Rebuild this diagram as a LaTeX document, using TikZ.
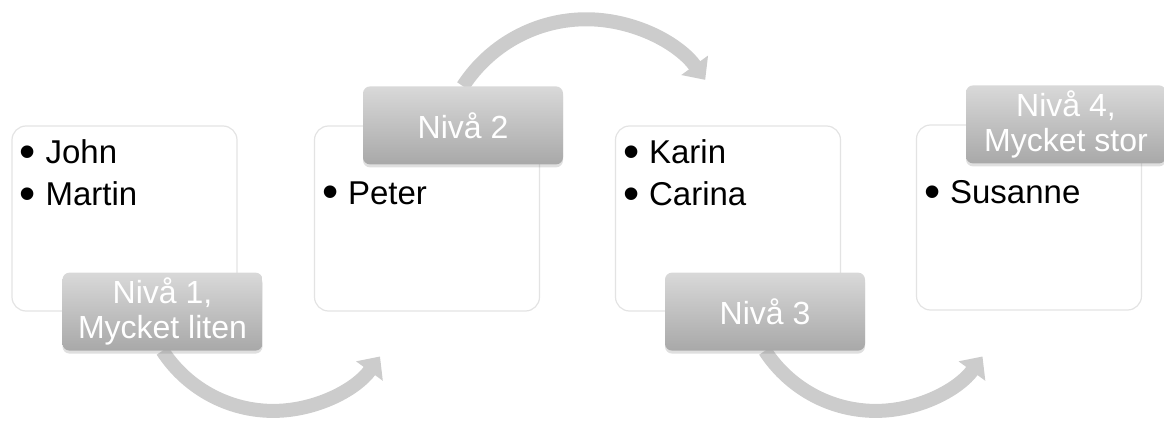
\documentclass[tikz,border=0pt]{standalone}
\usepackage{fontspec}
\setmainfont{Liberation Sans}
\usetikzlibrary{arrows.meta,shadows,backgrounds}
\tikzset{
    every node/.style={align=center,},
    card/.style={draw=gray!22,line width=1.2pt,rounded corners=14pt,minimum width=225pt,minimum height=185pt,inner sep=0pt,},
    level/.style={rounded corners=7pt,top color=gray!30,bottom color=gray!68,text=white,minimum width=200pt,minimum height=78pt,inner sep=0pt,font=\fontsize{32}{35}\selectfont,drop shadow={opacity=0.25,shadow xshift=0pt,shadow yshift=-3pt},},
    items/.style={anchor=north west,align=left,inner sep=0pt,font=\fontsize{33}{42}\selectfont,},
    flow/.style={draw=gray!40,line width=14pt,-{Triangle[length=18pt,width=32pt]},},
}
\newcommand{\itm}[1]{\makebox[26pt][l]{\raisebox{-3.5pt}{\scalebox{1.4}{\textbullet}}}#1}

\begin{document}
\begin{tikzpicture}[x=1pt,y=1pt]
                \useasboundingbox (0,0) rectangle (1164,421);

                \node[card] (box1) at (124.5,202.5) {};
                \node[card] (box2) at (427,202.5) {};
                \node[card] (box3) at (728,202.5) {};
                \node[card] (box4) at (1029,203.5) {};

                \node[items] (list1) at ([shift={(8,-14)}]box1.north west) {\itm{John}\\\itm{Martin}};
                \node[items] (list2) at ([shift={(8,-56)}]box2.north west) {\itm{Peter}};
                \node[items] (list3) at ([shift={(8,-14)}]box3.north west) {\itm{Karin}\\\itm{Carina}};
                \node[items] (list4) at ([shift={(8,-56)}]box4.north west) {\itm{Susanne}};

                \node[level] (lab1) at ([xshift=38pt]box1.south) {Nivå 1,\\Mycket liten};
                \node[level] (lab2) at ([xshift=36pt]box2.north) {Nivå 2};
                \node[level] (lab3) at ([xshift=37pt]box3.south) {Nivå 3};
                \node[level] (lab4) at ([xshift=37pt]box4.north) {Nivå 4,\\Mycket stor};

                \begin{scope}[on background layer]
                    \draw[flow] (lab1.south) arc[start angle=213,end angle=324,radius=132];
                    \draw[flow] (lab2.north) arc[start angle=147,end angle=36,radius=147];
                    \draw[flow] (lab3.south) arc[start angle=213,end angle=324,radius=132];
                \end{scope}
            \end{tikzpicture}
\end{document}
